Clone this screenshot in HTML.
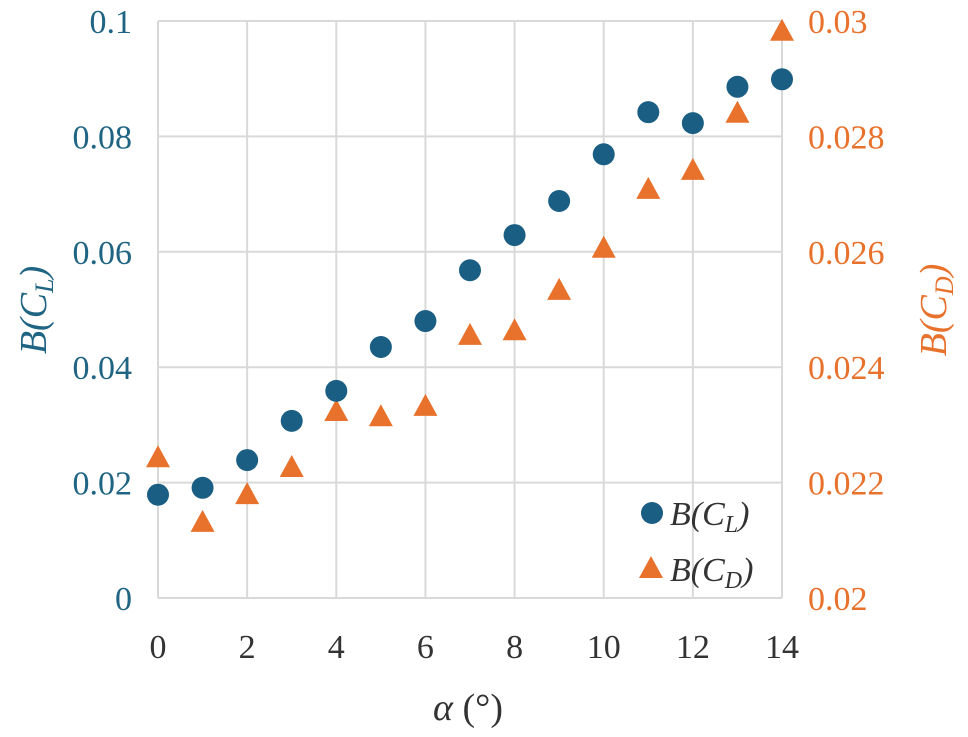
<!DOCTYPE html>
<html><head><meta charset="utf-8"><style>
body{margin:0;background:#fff}
svg text{font-family:"Liberation Serif",serif}
</style></head><body>
<svg id="c" width="968" height="732" xmlns="http://www.w3.org/2000/svg"></svg>
<script>
const alphas=[0,1,2,3,4,5,6,7,8,9,10,11,12,13,14];
const bCL=[0.0179,0.0191,0.0239,0.0307,0.0359,0.0435,0.048,0.0568,0.0629,0.0688,0.0769,0.0842,0.0823,0.0886,0.0899];
const bCD=[0.02244,0.02132,0.0218,0.02227,0.02324,0.02315,0.02333,0.02456,0.02464,0.02534,0.02607,0.02709,0.02742,0.02841,0.02983];
const xTicks=[0,2,4,6,8,10,12,14];
const yLTicks=[0,0.02,0.04,0.06,0.08,0.1];
const yLLabels=["0","0.02","0.04","0.06","0.08","0.1"];
const yRTicks=[0.02,0.022,0.024,0.026,0.028,0.03];
const yRLabels=["0.02","0.022","0.024","0.026","0.028","0.03"];
const X0=158,X1=782,Y0=598,Y1=21;
const xs=v=>X0+(v-0)/14*(X1-X0);
const yl=v=>Y0-(v/0.1)*(Y0-Y1);
const yr=v=>Y0-((v-0.02)/0.01)*(Y0-Y1);
const NS="http://www.w3.org/2000/svg",svg=document.getElementById('c');
function mk(t,a,txt){const e=document.createElementNS(NS,t);for(const k in a)e.setAttribute(k,a[k]);if(txt!=null)e.innerHTML=txt;svg.appendChild(e);return e;}
const BLUE="#1b5e84",ORANGE="#e8712c",TB="#1f6483",TO="#e8712c";
xTicks.forEach(v=>{const e=mk('line',{x1:xs(v),x2:xs(v),y1:Y1,y2:Y0,stroke:'#d9d9d9','stroke-width':2});
});
yLTicks.forEach(v=>{const e=mk('line',{x1:X0,x2:X1,y1:yl(v),y2:yl(v),stroke:'#d9d9d9','stroke-width':2});
});
xTicks.forEach(v=>{const e=mk('text',{x:xs(v),y:658,'text-anchor':'middle','font-size':34,fill:'#333'},v);
});
yLTicks.forEach((v,i)=>{const e=mk('text',{x:132,y:yl(v)+12,'text-anchor':'end','font-size':34,fill:TB},yLLabels[i]);
});
yRTicks.forEach((v,i)=>{const e=mk('text',{x:808,y:yr(v)+12,'text-anchor':'start','font-size':34,fill:TO},yRLabels[i]);
});
let e=mk('text',{x:468,y:720,'text-anchor':'middle','font-size':38,fill:'#333'},'<tspan font-style="italic">α</tspan> (°)');

e=mk('text',{x:0,y:0,'text-anchor':'middle','font-size':38,fill:TB,transform:'translate(46,310) rotate(-90)','font-style':'italic'},'B(C<tspan font-size="26" dy="7">L</tspan><tspan dy="-7">)</tspan>');

e=mk('text',{x:0,y:0,'text-anchor':'middle','font-size':38,fill:TO,transform:'translate(946,310) rotate(-90)','font-style':'italic'},'B(C<tspan font-size="26" dy="7">D</tspan><tspan dy="-7">)</tspan>');

function tri(cx,cy){return `${cx-12},${cy+10} ${cx+12},${cy+10} ${cx},${cy-12}`;}
alphas.forEach((a,i)=>{const t=mk('polygon',{points:tri(xs(a),yr(bCD[i])),fill:ORANGE});
});
alphas.forEach((a,i)=>{const c=mk('circle',{cx:xs(a),cy:yl(bCL[i]),r:11,fill:BLUE});
});
e=mk('circle',{cx:652,cy:513,r:11,fill:BLUE});
e=mk('text',{x:670,y:525,'font-size':34,fill:'#333','font-style':'italic'},'B(C<tspan font-size="24" dy="7">L</tspan><tspan dy="-7">)</tspan>');

e=mk('polygon',{points:tri(651,568),fill:ORANGE});
e=mk('text',{x:670,y:581,'font-size':34,fill:'#333','font-style':'italic'},'B(C<tspan font-size="24" dy="7">D</tspan><tspan dy="-7">)</tspan>');

</script>
</body></html>
